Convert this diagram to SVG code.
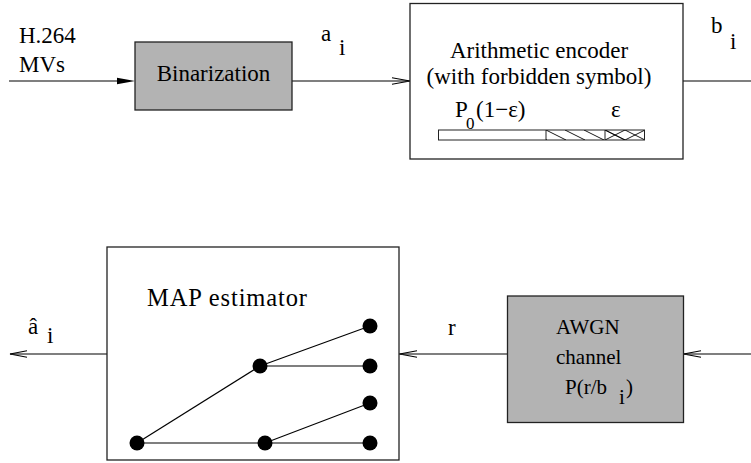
<svg xmlns="http://www.w3.org/2000/svg" width="751" height="463" viewBox="0 0 751 463">
<defs>
<style>
.t{font-family:"Liberation Serif","Times New Roman",serif;fill:#000}
.box{stroke:#222;stroke-width:1.3}
.ln{stroke:#000;stroke-width:1.2;fill:none}
.open{stroke:#000;stroke-width:1.1;fill:none}
</style>
<clipPath id="c2"><rect x="546" y="130" width="59" height="10"/></clipPath>
<clipPath id="c3"><rect x="605" y="130" width="39" height="10"/></clipPath>
</defs>
<rect width="751" height="463" fill="#fff"/>

<g id="connectors">
<line class="ln" x1="9" y1="81" x2="118" y2="81"/>
<polygon points="135,81 117,77.7 117,84.3" fill="#000"/>
<line class="ln" x1="292" y1="81" x2="410" y2="81"/>
<polyline class="open" points="392,77.7 410,81 392,84.3"/>
<line class="ln" x1="683" y1="81" x2="751" y2="81"/>
<line class="ln" x1="683" y1="354" x2="751" y2="354"/>
<polyline class="open" points="701,350.7 683.5,354 701,357.3"/>
<line class="ln" x1="399" y1="354" x2="507" y2="354"/>
<polyline class="open" points="417,350.7 399.5,354 417,357.3"/>
<line class="ln" x1="10" y1="354" x2="107" y2="354"/>
<polyline class="open" points="27,350.7 10,354 27,357.3"/>
</g>

<g id="input-label">
<text class="t" x="19" y="42.5" font-size="23">H.264</text>
<text class="t" x="19" y="72" font-size="23">MVs</text>
</g>

<g id="binarization">
<rect class="box" x="135" y="42" width="157" height="68" fill="#b3b3b3"/>
<text class="t" x="213.5" y="81" font-size="23" text-anchor="middle">Binarization</text>
</g>

<g id="label-ai">
<text class="t" x="321" y="41" font-size="23">a</text>
<text class="t" x="339" y="55" font-size="23">i</text>
</g>

<g id="encoder">
<rect class="box" x="410" y="3.5" width="273" height="155.5" fill="#fff"/>
<text class="t" x="539" y="58" font-size="23" text-anchor="middle">Arithmetic encoder</text>
<text class="t" x="539" y="84" font-size="23" text-anchor="middle">(with forbidden symbol)</text>
<text class="t" x="455" y="117" font-size="23">P</text>
<text class="t" x="466" y="129" font-size="17">0</text>
<text class="t" x="476" y="117" font-size="23">(1−ε)</text>
<text class="t" x="611" y="117" font-size="23">ε</text>
<rect x="438.5" y="130" width="206" height="10" fill="#fff" stroke="#222" stroke-width="1"/>
<g clip-path="url(#c2)" stroke="#000" stroke-width="0.9">
<line x1="546" y1="130" x2="566" y2="140"/>
<line x1="565" y1="130" x2="585" y2="140"/>
<line x1="584" y1="130" x2="604" y2="140"/>
<line x1="527" y1="130" x2="547" y2="140"/>
</g>
<g clip-path="url(#c3)" stroke="#000" stroke-width="0.9">
<line x1="605" y1="130" x2="625" y2="140"/>
<line x1="625" y1="130" x2="645" y2="140"/>
<line x1="625" y1="130" x2="605" y2="140"/>
<line x1="645" y1="130" x2="625" y2="140"/>
<line x1="585" y1="130" x2="605" y2="140"/>
<line x1="625" y1="140" x2="605" y2="130"/>
</g>
<line x1="546" y1="130" x2="546" y2="140" stroke="#222" stroke-width="1"/>
<line x1="605" y1="130" x2="605" y2="140" stroke="#222" stroke-width="1"/>
</g>

<g id="label-bi">
<text class="t" x="711" y="33" font-size="23">b</text>
<text class="t" x="730" y="49" font-size="23">i</text>
</g>

<g id="map-estimator">
<rect class="box" x="107" y="247" width="292" height="213" fill="#fff"/>
<text class="t" x="147" y="306" font-size="24.5" textLength="160" lengthAdjust="spacing">MAP estimator</text>
<g stroke="#000" stroke-width="1.2">
<line x1="137" y1="443" x2="260" y2="366"/>
<line x1="260" y1="366" x2="370" y2="326"/>
<line x1="260" y1="366" x2="370" y2="366"/>
<line x1="137" y1="443" x2="265" y2="443"/>
<line x1="265" y1="443" x2="370" y2="403"/>
<line x1="265" y1="443" x2="370" y2="443"/>
</g>
<g fill="#000">
<circle cx="137" cy="443" r="7.5"/>
<circle cx="260" cy="366" r="7.5"/>
<circle cx="265" cy="443" r="7.5"/>
<circle cx="370" cy="326" r="7.5"/>
<circle cx="370" cy="366" r="7.5"/>
<circle cx="370" cy="403" r="7.5"/>
<circle cx="370" cy="443" r="7.5"/>
</g>
</g>

<g id="label-ahat">
<text class="t" x="28" y="334" font-size="23">â</text>
<text class="t" x="47" y="343" font-size="23">i</text>
</g>

<g id="label-r">
<text class="t" x="448" y="335" font-size="23">r</text>
</g>

<g id="awgn">
<rect class="box" x="507.5" y="296" width="176" height="126.5" fill="#b3b3b3"/>
<text class="t" x="556" y="334" font-size="21">AWGN</text>
<text class="t" x="556" y="364" font-size="21">channel</text>
<text class="t" x="565" y="394" font-size="21">P(r/b</text>
<text class="t" x="619" y="404" font-size="21">i</text>
<text class="t" x="626" y="394" font-size="21">)</text>
</g>
</svg>
